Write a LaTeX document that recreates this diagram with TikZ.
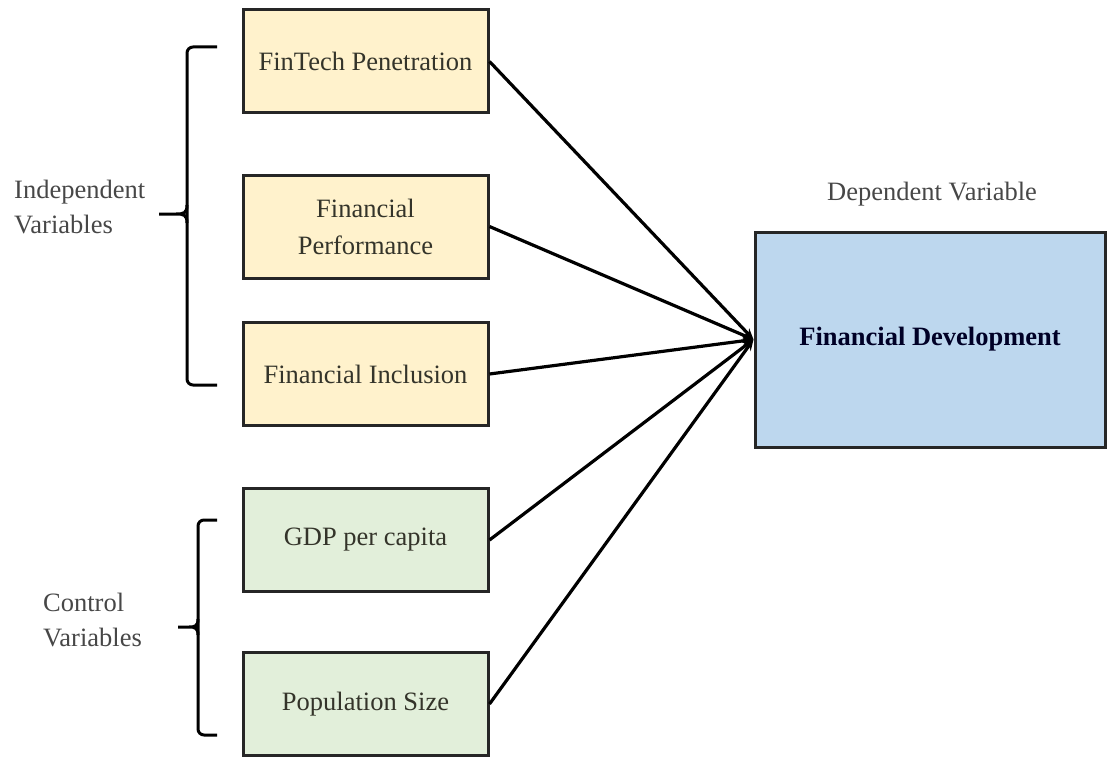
\documentclass[tikz,border=0pt]{standalone}
\usepackage{fontspec}
\setmainfont{Liberation Serif}
\usetikzlibrary{arrows.meta}
\definecolor{indfill}{HTML}{FFF2CC}
\definecolor{ctrlfill}{HTML}{E2EFDA}
\definecolor{depfill}{HTML}{BDD7EE}
\definecolor{edge}{HTML}{262626}
\definecolor{txt}{HTML}{34342A}
\begin{document}
\begin{tikzpicture}[x=1pt,y=-1pt,
  varbox/.style={draw=edge, line width=3pt, minimum width=245pt, minimum height=103pt,
    align=center, text=txt, font=\fontsize{26.5}{37}\selectfont, inner sep=0pt},
  indbox/.style={varbox, fill=indfill},
  ctrlbox/.style={varbox, fill=ctrlfill},
  depbox/.style={draw=edge, line width=3pt, fill=depfill, minimum width=350pt,
    minimum height=215pt, inner sep=0pt, text=black!85!blue,
    font=\fontsize{26.5}{37}\selectfont\bfseries},
  grouplabel/.style={align=left, text=black!72, font=\fontsize{26.5}{35}\selectfont, inner sep=0pt},
  link/.style={line width=3.2pt, -{Stealth[length=11pt,width=9pt]}},
  bracket/.style={line width=3pt, rounded corners=6pt}
]
\useasboundingbox (0,0) rectangle (1107,757);

% independent variables
\node[indbox]  (fin)  at (365.5,61.5)  {FinTech Penetration};
\node[indbox]  (perf) at (365.5,226.5) {Financial\\Performance};
\node[indbox]  (incl) at (365.5,374)   {Financial Inclusion};
% control variables
\node[ctrlbox] (gdp)  at (365.5,540)   {GDP per capita};
\node[ctrlbox] (pop)  at (365.5,704)   {Population Size};
% dependent variable
\node[depbox]  (dev)  at (930,339.5)   {Financial Development};
\node[grouplabel, anchor=center] (deplbl) at (932,194) {Dependent Variable};

% group labels
\node[grouplabel, anchor=west] (indlbl) at (14,207)  {Independent\\Variables};
\node[grouplabel, anchor=west] (ctrllbl) at (43,620) {Control\\Variables};

% brackets grouping the boxes
\draw[bracket] (217,47) -- (187,47) -- (187,385) -- (217,385);
\draw[line width=3pt] (187,205) .. controls (187,213) and (184,214) .. (176,214) -- (159,214)
  (176,214) .. controls (184,214) and (187,215) .. (187,223);
\draw[bracket] (217,520) -- (198,520) -- (198,735) -- (217,735);
\draw[line width=3pt] (198,619) .. controls (198,626) and (195,627) .. (189,627) -- (178,627)
  (189,627) .. controls (195,627) and (198,628) .. (198,635);

% links into the dependent variable
\coordinate (hub) at (dev.west);
\foreach \v in {fin,perf,incl,gdp,pop}
  \draw[link] (\v.east) -- (hub);
\end{tikzpicture}
\end{document}
